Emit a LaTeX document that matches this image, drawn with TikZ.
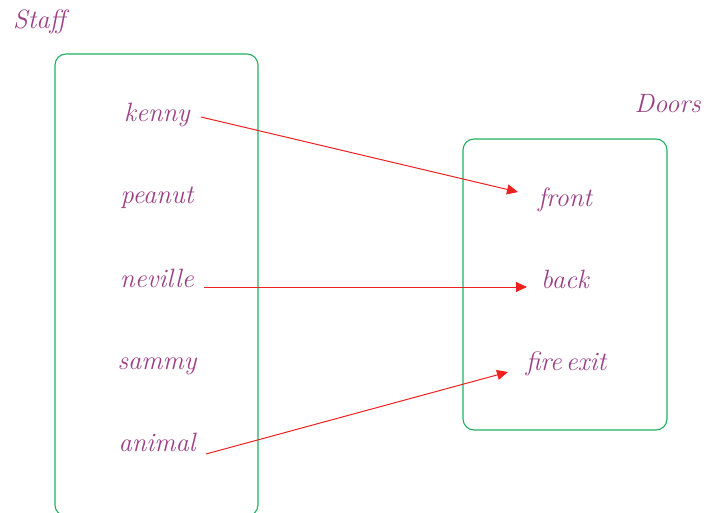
\documentclass[tikz,border=0pt]{standalone}
\usetikzlibrary{arrows.meta}
\definecolor{txtc}{HTML}{9C3F85}
\definecolor{boxc}{HTML}{22B060}
\definecolor{arrc}{HTML}{EE2020}
\begin{document}
\begin{tikzpicture}[x=1pt,y=-1pt,
  lbl/.style={text=txtc,font=\fontsize{26.5}{30}\selectfont\itshape,inner sep=0pt,anchor=base},
  setbox/.style={draw=boxc,line width=1.1pt,rounded corners=11pt},
  arr/.style={draw=arrc,line width=1pt,-{Triangle[length=11pt,width=10pt]}}]
\useasboundingbox (0,0) rectangle (704,513);
\clip (0,0) rectangle (704,513);
\draw[setbox] (55,54) rectangle (258,516);
\draw[setbox] (463,139) rectangle (667,430);
\node[lbl,anchor=base west] (staff) at (13,29) {Staff};
\node[lbl,anchor=base east] (doors) at (701,113) {Doors};
\node[lbl] (kenny) at (157,122) {kenny};
\node[lbl] (peanut) at (157,204) {peanut};
\node[lbl] (neville) at (157,287) {neville};
\node[lbl] (sammy) at (157,369) {sammy};
\node[lbl] (animal) at (157,451) {animal};
\node[lbl] (front) at (565,207) {front};
\node[lbl] (back) at (565,288) {back};
\node[lbl] (fire) at (566,370) {fire\hspace{0.15em}exit};
\draw[arr] ([shift={(44,-5)}]kenny.base) -- ([shift={(-47,-15)}]front.base);
\draw[arr] ([shift={(47,0)}]neville.base) -- ([shift={(-38,-1)}]back.base);
\draw[arr] ([shift={(49,3)}]animal.base) -- ([shift={(-58,2)}]fire.base);
\end{tikzpicture}
\end{document}
